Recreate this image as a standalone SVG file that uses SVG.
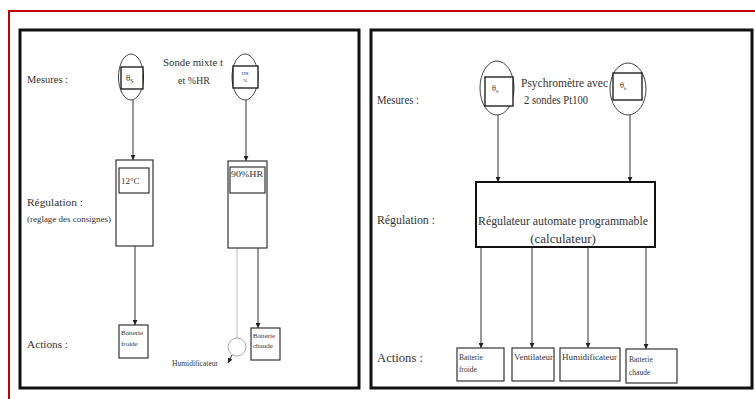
<svg xmlns="http://www.w3.org/2000/svg" width="755" height="399" viewBox="0 0 755 399">
<defs>
<marker id="ah" viewBox="0 0 6 6" refX="6" refY="3" markerWidth="5" markerHeight="5" orient="auto"><path d="M0,0 L6,3 L0,6 z" fill="#222"/></marker>
<style>
text{font-family:"Liberation Serif","Times New Roman",serif;fill:#333}
.frame{fill:none;stroke:#111;stroke-width:3}
.box{fill:#fff;stroke:#333;stroke-width:1.2}
.thick{fill:#fff;stroke:#111;stroke-width:2}
.sens{fill:#fff;stroke:#444;stroke-width:1}
.sq{fill:#fff;stroke:#111;stroke-width:1.3}
.con{stroke:#333;stroke-width:1;fill:none;marker-end:url(#ah)}
.lbl{font-size:11px}
.lbl2{font-size:12.5px}
.sm{font-size:7px}
</style>
</defs>
<rect width="755" height="399" fill="#fff"/>
<path d="M9,399 V11 H755" fill="none" stroke="#c00000" stroke-width="2"/>
<rect class="frame" x="20" y="30" width="339" height="358"/>
<rect class="frame" x="371" y="30" width="381" height="358"/>

<g id="left-labels">
<text class="lbl" x="27" y="83" textLength="41" lengthAdjust="spacingAndGlyphs">Mesures :</text>
<text class="lbl" x="27" y="206" textLength="56" lengthAdjust="spacingAndGlyphs">Régulation :</text>
<text x="27" y="222" font-size="8.5" textLength="84" lengthAdjust="spacingAndGlyphs">(reglage des consignes)</text>
<text class="lbl" x="27" y="348" textLength="41" lengthAdjust="spacingAndGlyphs">Actions :</text>
<text class="lbl" x="193" y="66" text-anchor="middle" textLength="60" lengthAdjust="spacingAndGlyphs">Sonde mixte t</text>
<text class="lbl" x="194" y="84" text-anchor="middle" textLength="32" lengthAdjust="spacingAndGlyphs">et %HR</text>
</g>

<g id="connectors">
<line class="con" x1="133" y1="100" x2="133" y2="160"/>
<line class="con" x1="246" y1="100" x2="246" y2="161"/>
<line class="con" x1="135" y1="246" x2="135" y2="325"/>
<line class="con" x1="258" y1="248" x2="258" y2="328"/>
<line x1="237" y1="248" x2="237" y2="338" stroke="#bbb" stroke-width="1"/>
<line class="con" x1="232" y1="355" x2="228" y2="363"/>
<line class="con" x1="498" y1="115" x2="498" y2="182"/>
<line class="con" x1="630" y1="115" x2="630" y2="182"/>
<line class="con" x1="481" y1="247" x2="481" y2="348"/>
<line class="con" x1="532" y1="247" x2="532" y2="348"/>
<line class="con" x1="588" y1="247" x2="588" y2="348"/>
<line class="con" x1="646" y1="247" x2="646" y2="349"/>
</g>

<g id="sensor-theta-s">
<ellipse class="sens" cx="131" cy="77" rx="12.5" ry="23"/>
<rect class="sq" x="121" y="67" width="22" height="22"/>
<text x="126" y="81" font-size="9">θ<tspan font-size="6" dy="1.5">S</tspan></text>
</g>
<g id="sensor-hr">
<ellipse class="sens" cx="245" cy="77" rx="13" ry="23"/>
<rect class="sq" x="233" y="66" width="25" height="22"/>
<text x="245" y="75" font-size="5" text-anchor="middle">HR</text>
<text x="245" y="82" font-size="5" text-anchor="middle">%</text>
</g>
<g id="reg-12C">
<rect class="box" x="116" y="160" width="37" height="86"/>
<rect class="box" x="119" y="168" width="30" height="25"/>
<text x="121" y="184" font-size="9">12°C</text>
</g>
<g id="reg-90HR">
<rect class="box" x="228" y="161" width="39" height="87"/>
<rect class="box" x="230" y="167" width="35" height="26"/>
<text x="231" y="177" font-size="9" textLength="32" lengthAdjust="spacingAndGlyphs">90%HR</text>
</g>
<g id="act-batterie-froide-l">
<rect class="box" x="119" y="325" width="29" height="33"/>
<text class="sm" x="121" y="335" font-size="6">Batterie</text>
<text class="sm" x="121" y="346" font-size="6">froide</text>
</g>
<g id="act-batterie-chaude-l">
<rect class="box" x="251" y="328" width="29" height="32"/>
<text class="sm" x="253" y="338" font-size="6">Batterie</text>
<text class="sm" x="253" y="348" font-size="6">chaude</text>
</g>
<g id="humidificateur-l">
<circle cx="237" cy="347" r="9" fill="#fff" stroke="#aaa" stroke-width="1"/>
<text x="172" y="366" font-size="7.5" textLength="46" lengthAdjust="spacingAndGlyphs">Humidificateur</text>
</g>

<g id="right-labels">
<text class="lbl2" x="377" y="104" textLength="42" lengthAdjust="spacingAndGlyphs">Mesures :</text>
<text class="lbl2" x="377" y="224" textLength="58" lengthAdjust="spacingAndGlyphs">Régulation :</text>
<text class="lbl2" x="377" y="362" textLength="46" lengthAdjust="spacingAndGlyphs">Actions :</text>
<text class="lbl2" x="521" y="87" textLength="87" lengthAdjust="spacingAndGlyphs">Psychromètre avec</text>
<text class="lbl2" x="524" y="104" textLength="64" lengthAdjust="spacingAndGlyphs">2 sondes Pt100</text>
</g>
<g id="sensor-theta-sc">
<ellipse class="sens" cx="497" cy="88" rx="17" ry="27"/>
<rect class="sq" x="485" y="77" width="28" height="29"/>
<text x="492" y="91" font-size="8">θ<tspan font-size="5" dy="1.5">S</tspan></text>
</g>
<g id="sensor-theta-h">
<ellipse class="sens" cx="628" cy="89" rx="18" ry="26"/>
<rect class="sq" x="613" y="73" width="29" height="27"/>
<text x="620" y="88" font-size="8">θ<tspan font-size="5" dy="1.5">h</tspan></text>
</g>
<g id="regulateur">
<rect class="thick" x="476" y="182" width="179" height="65"/>
<text x="563" y="225" font-size="13" text-anchor="middle" textLength="170" lengthAdjust="spacingAndGlyphs">Régulateur automate programmable</text>
<text x="563" y="243" font-size="13" text-anchor="middle">(calculateur)</text>
</g>
<g id="act-batterie-froide">
<rect class="box" x="457" y="348" width="47" height="33"/>
<text x="459" y="360" font-size="7.5">Batterie</text>
<text x="459" y="372" font-size="7.5">froide</text>
</g>
<g id="act-ventilateur">
<rect class="box" x="512" y="348" width="42" height="33"/>
<text x="514" y="360" font-size="7.5" textLength="39" lengthAdjust="spacingAndGlyphs">Ventilateur</text>
</g>
<g id="act-humidificateur">
<rect class="box" x="560" y="348" width="60" height="33"/>
<text x="562" y="360" font-size="7.5" textLength="55" lengthAdjust="spacingAndGlyphs">Humidificateur</text>
</g>
<g id="act-batterie-chaude">
<rect class="box" x="626" y="349" width="51" height="34"/>
<text x="629" y="362" font-size="7.5">Batterie</text>
<text x="629" y="375" font-size="7.5">chaude</text>
</g>
</svg>
